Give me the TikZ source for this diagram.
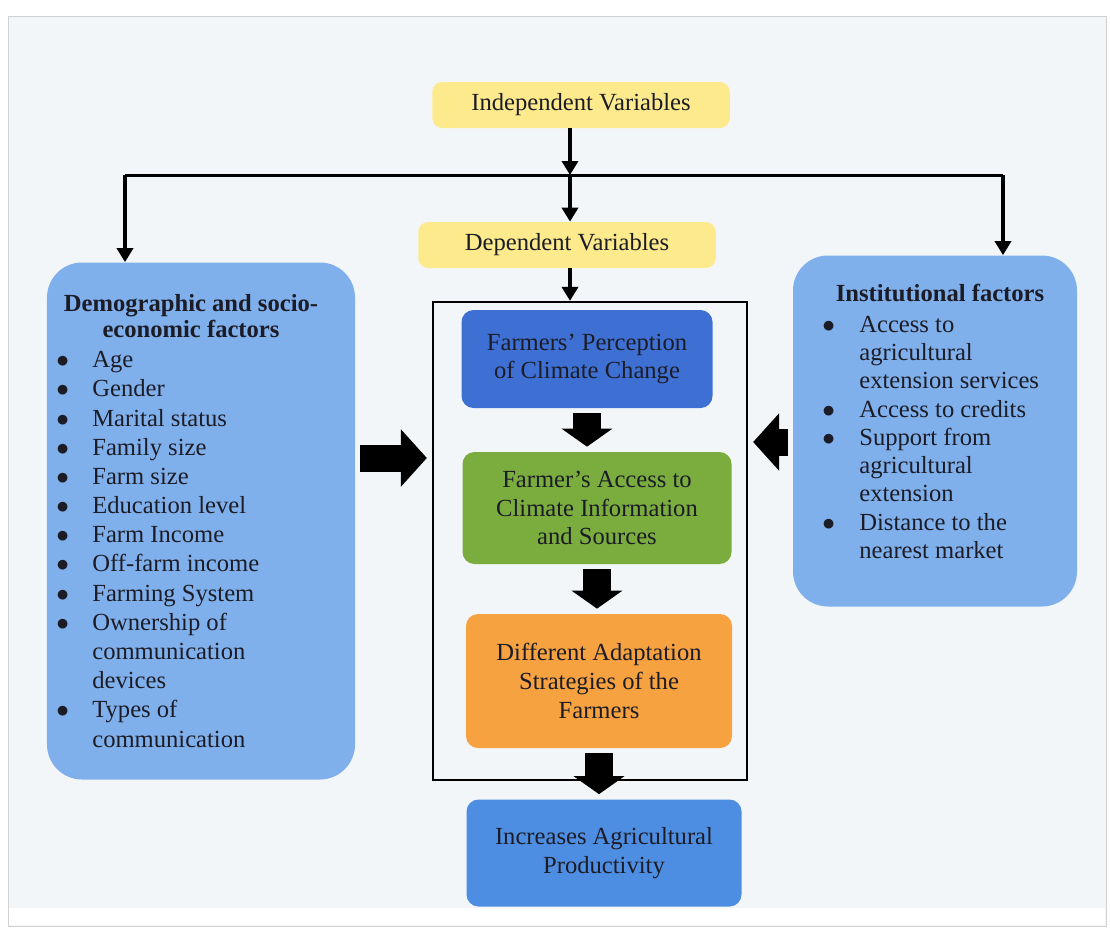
\documentclass[tikz,border=0pt]{standalone}
\usepackage{fontspec}
\setmainfont{Liberation Serif}
\usetikzlibrary{arrows.meta,positioning}

\definecolor{ivyellow}{RGB}{252,234,140}
\definecolor{percblue}{RGB}{62,112,212}
\definecolor{accgreen}{RGB}{122,172,62}
\definecolor{adaptorange}{RGB}{246,162,64}
\definecolor{prodblue}{RGB}{78,142,226}
\definecolor{sideblue}{RGB}{128,176,236}
\definecolor{inkdark}{RGB}{28,28,38}
\definecolor{pagetint}{RGB}{243,246,249}

\newcommand{\itemdot}{$\bullet$}

\begin{document}
\begin{tikzpicture}[x=0.2mm,y=-0.2mm,
    every node/.style={font=\fontsize{14}{16.4}\selectfont, text=inkdark},
    varbox/.style={fill=ivyellow, rounded corners=2mm, minimum width=59.5mm, minimum height=9.2mm, inner sep=0pt},
    stagebox/.style={rounded corners=2.4mm, align=center, inner sep=0pt},
    sidebox/.style={fill=sideblue, rounded corners=7mm, inner sep=0pt},
    titletext/.style={font=\bfseries\fontsize{14}{15.2}\selectfont, align=center},
    flow/.style={line width=0.9mm, -{Triangle[length=2.8mm,width=3.2mm]}},
    blockarrow/.style={line width=5.6mm, -{Triangle[length=3.6mm,width=10mm]}, shorten >=1mm, shorten <=1mm},
    sidearrow/.style={line width=5.4mm, -{Triangle[length=5.2mm,width=11.2mm]}, shorten >=1mm, shorten <=1mm}]
    \useasboundingbox (0,0) rectangle (1110,942);
    \fill[white] (0,0) rectangle (1110,942);
    \draw[gray!35, fill=pagetint] (8,16) rectangle (1106,926);
    \fill[white] (9,908) rectangle (1105,925);

    \node[varbox] (iv) at (581,105) {Independent Variables};
    \node[varbox] (dv) at (567,245) {Dependent Variables};

    \node[sidebox, minimum width=61.6mm, minimum height=103.4mm] (demo) at (201,521) {};
    \node[sidebox, minimum width=56.8mm, minimum height=70.2mm] (inst) at (935,431) {};

    \node[draw=black, line width=0.45mm, minimum width=62.8mm, minimum height=95.6mm, inner sep=0pt] (core) at (590,541) {};
    \node[stagebox, fill=percblue, minimum width=50.2mm, minimum height=19.6mm] (perc) at (587,359) {Farmers' Perception\\of Climate Change};
    \node[stagebox, fill=accgreen, minimum width=53.8mm, minimum height=22.4mm] (access) at (597,508) {Farmer's Access to\\Climate Information\\and Sources};
    \node[stagebox, fill=adaptorange, minimum width=53.2mm, minimum height=26.8mm] (adapt) at (599,681) {Different Adaptation\\Strategies of the\\Farmers};
    \node[stagebox, fill=prodblue, minimum width=55mm, minimum height=21.4mm] (prod) at (604,853) {Increases Agricultural\\Productivity};

    \node[titletext] (demotitle) at (191,316) {Demographic and socio-\\economic factors};
    \node[anchor=north west, inner sep=0pt, font=\fontsize{14}{16.6}\selectfont] (demolist) at (56,347) {%
        \begin{tabular}{@{}p{7.2mm}@{}l@{}}
            \itemdot & Age\\
            \itemdot & Gender\\
            \itemdot & Marital status\\
            \itemdot & Family size\\
            \itemdot & Farm size\\
            \itemdot & Education level\\
            \itemdot & Farm Income\\
            \itemdot & Off-farm income\\
            \itemdot & Farming System\\
            \itemdot & Ownership of\\
                     & communication\\
                     & devices\\
            \itemdot & Types of\\
                     & communication
        \end{tabular}};

    \node[titletext] (insttitle) at (940,293) {Institutional factors};
    \node[anchor=north west, inner sep=0pt, font=\fontsize{14}{16.1}\selectfont] (instlist) at (822,312) {%
        \begin{tabular}{@{}p{7.4mm}@{}l@{}}
            \itemdot & Access to\\
                     & agricultural\\
                     & extension services\\
            \itemdot & Access to credits\\
            \itemdot & Support from\\
                     & agricultural\\
                     & extension\\
            \itemdot & Distance to the\\
                     & nearest market
        \end{tabular}};

    \coordinate (split) at (570,175);
    \coordinate (leftturn) at (125,175);
    \coordinate (rightturn) at (1003,175);

    \draw[line width=0.6mm] (leftturn) -- (rightturn);
    \draw[flow] (split |- iv.south) -- (split);
    \draw[flow] (split) -- (split |- dv.north);
    \draw[flow] (leftturn) -- (leftturn |- demo.north);
    \draw[flow] (rightturn) -- (rightturn |- inst.north);
    \draw[flow] (split |- dv.south) -- (split |- core.north);

    \draw[blockarrow] (perc.south) -- (perc.south |- access.north);
    \draw[blockarrow] (access.south) -- (access.south |- adapt.north);
    \draw[blockarrow] (adapt.south) -- (adapt.south |- prod.north);
    \draw[sidearrow] (demo.east |- 0,458) -- (core.west |- 0,458);
    \draw[sidearrow] (inst.west |- 0,442) -- (core.east |- 0,442);
\end{tikzpicture}
\end{document}
